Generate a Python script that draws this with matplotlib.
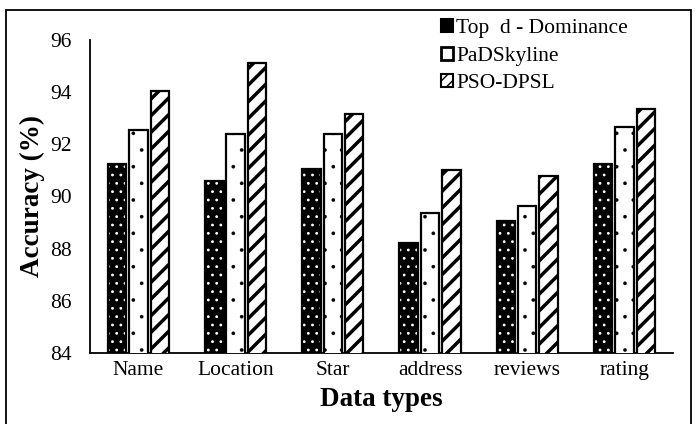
import numpy as np
import matplotlib
matplotlib.use('Agg')
import matplotlib.pyplot as plt
from matplotlib.patches import Rectangle

plt.rcParams['font.family'] = ['Liberation Serif', 'DejaVu Serif']

# Data
categories = ['Name', 'Location', 'Star', 'address', 'reviews', 'rating']
top_d = [91.25, 90.6, 91.05, 88.2, 89.05, 91.25]
padskyline = [92.55, 92.38, 92.38, 89.38, 89.65, 92.65]
pso_dpsl = [94.05, 95.1, 93.15, 91.0, 90.8, 93.35]
series_names = ['Top  d - Dominance', 'PaDSkyline', 'PSO-DPSL']


def set_hatch_lw(patches, lw):
    # hatch linewidth per patch (falls back to rcParams)
    for p in patches:
        if hasattr(p, 'set_hatch_linewidth'):
            p.set_hatch_linewidth(lw)


fig = plt.figure(figsize=(6.97, 4.24), dpi=100)
ax = fig.add_axes([0.129, 0.1675, 0.8366, 0.7382])

x = np.arange(len(categories))
w = 0.19
step = 0.22

# Black bars with small white dots: fill layer + outline layer
with plt.rc_context({'hatch.linewidth': 0.8}):
    b1f = ax.bar(x - step, top_d, w, color='black', edgecolor='white',
                 hatch='..', linewidth=0, zorder=2)
set_hatch_lw(b1f, 0.8)
b1 = ax.bar(x - step, top_d, w, fill=False, edgecolor='black', linewidth=1.6,
            zorder=3)

with plt.rc_context({'hatch.linewidth': 0.2}):
    b2 = ax.bar(x, padskyline, w, color='white', edgecolor='black', hatch='.',
                linewidth=1.6, zorder=3)
set_hatch_lw(b2, 0.2)

with plt.rc_context({'hatch.linewidth': 2.5}):
    b3 = ax.bar(x + step, pso_dpsl, w, color='white', edgecolor='black',
                hatch='//', linewidth=1.6, zorder=3)
set_hatch_lw(b3, 2.5)

ax.set_ylim(84, 96)
ax.set_xlim(-0.5, len(categories) - 0.5)
ax.set_yticks(np.arange(84, 97, 2))
ax.set_xticks(x)
ax.set_xticklabels(categories)
ax.tick_params(axis='both', length=0, labelsize=15.5)
ax.tick_params(axis='y', pad=13)
ax.tick_params(axis='x', pad=6)

for side in ['top', 'right']:
    ax.spines[side].set_visible(False)
for side in ['left', 'bottom']:
    ax.spines[side].set_linewidth(1.3)

ax.set_ylabel('Accuracy (%)', fontsize=19.5, fontweight='bold', labelpad=4)
ax.set_xlabel('Data types', fontsize=19.5, fontweight='bold', labelpad=5)

# Legend handles
h1 = Rectangle((0, 0), 1, 1, facecolor='black', edgecolor='black', linewidth=1.5)
h2 = Rectangle((0, 0), 1, 1, facecolor='white', edgecolor='black', linewidth=2)
h3 = Rectangle((0, 0), 1, 1, facecolor='white', edgecolor='black', linewidth=1.5,
               hatch='///')
leg = fig.legend([h1, h2, h3], series_names,
                 loc='upper left', bbox_to_anchor=(0.611, 0.99),
                 frameon=False, fontsize=15.5, handlelength=0.55,
                 handleheight=0.55, handletextpad=0.15, labelspacing=0.38,
                 borderpad=0.2)

# Outer frame around the figure
frame = Rectangle((6 / 697, -0.1), 685 / 697, 1.1 - 10 / 424,
                  transform=fig.transFigure, fill=False,
                  edgecolor='black', linewidth=1.3)
fig.patches.append(frame)

fig.savefig('out.png', dpi=100)
